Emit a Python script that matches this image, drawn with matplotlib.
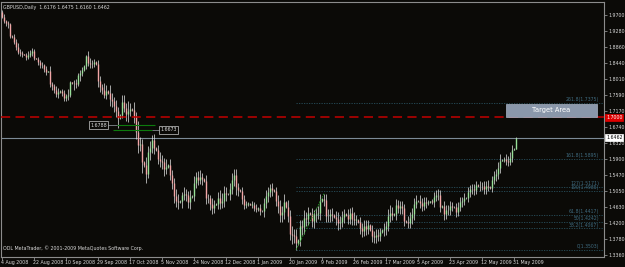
import matplotlib
matplotlib.use("Agg")
import matplotlib.pyplot as plt
from matplotlib.patches import Rectangle
import matplotlib.transforms as mtransforms

# ---------------- data ----------------
closes = [
    1.9660, 1.9530, 1.9480, 1.9450, 1.9150,
    1.9120, 1.9000, 1.8860, 1.8720, 1.8700, 1.8660,
    1.8650, 1.8600, 1.8640, 1.8700, 1.8760, 1.8560,
    1.8550, 1.8450, 1.8370, 1.8370, 1.8280, 1.8200,
    1.8210, 1.7870, 1.7820, 1.7730, 1.7610, 1.7670,
    1.7700, 1.7630, 1.7520, 1.7550, 1.7600, 1.7920,
    1.7900, 1.7900, 1.7890, 1.8120, 1.8170, 1.8250,
    1.8350, 1.8610, 1.8440, 1.8410, 1.8400, 1.8450,
    1.8400, 1.7950, 1.7800, 1.7720, 1.7600, 1.7700,
    1.7650, 1.7480, 1.7420, 1.7300, 1.7180, 1.6980,
    1.7050, 1.7400, 1.7250, 1.7100, 1.7180, 1.7220,
    1.7200, 1.7000, 1.6600, 1.6270, 1.6290, 1.5820,
    1.5750, 1.5510, 1.6080, 1.6200, 1.6400, 1.6200,
    1.6150, 1.5900, 1.5840, 1.5820, 1.5650, 1.5700,
    1.5750, 1.5490, 1.5260, 1.4920, 1.4800, 1.4770,
    1.4800, 1.4950, 1.4980, 1.4950, 1.4760, 1.4900,
    1.4920, 1.5280, 1.5420, 1.5350, 1.5420, 1.5360,
    1.5330, 1.4870, 1.4860, 1.4720, 1.4620, 1.4700,
    1.4720, 1.4880, 1.4730, 1.4790, 1.5010, 1.4970,
    1.4980, 1.5120, 1.5350, 1.5480, 1.5150, 1.5070,
    1.5050, 1.4850, 1.4700, 1.4720, 1.4720,
    1.4700, 1.4700, 1.4620, 1.4590, 1.4600, 1.4540,
    1.4520, 1.4750, 1.4920, 1.5020, 1.5130, 1.5080,
    1.5050, 1.4800, 1.4650, 1.4430, 1.4510, 1.4760,
    1.4640, 1.4400, 1.3930, 1.3900, 1.3860, 1.3680,
    1.3760, 1.4120, 1.4100, 1.4350, 1.4310, 1.4480,
    1.4440, 1.4260, 1.4410, 1.4460, 1.4480, 1.4800,
    1.4850, 1.4830, 1.4390, 1.4390, 1.4450, 1.4420,
    1.4380, 1.4320, 1.4200, 1.4250, 1.4360, 1.4450,
    1.4420, 1.4330, 1.4470, 1.4320, 1.4300, 1.4300,
    1.4230, 1.4080, 1.4000, 1.4130, 1.4050, 1.4150,
    1.4020, 1.3870, 1.3850, 1.3900, 1.3880, 1.3970,
    1.4020, 1.4050, 1.4120, 1.4400, 1.4480, 1.4430,
    1.4450, 1.4680, 1.4620, 1.4650, 1.4600, 1.4260,
    1.4250, 1.4220, 1.4340, 1.4450, 1.4720, 1.4800,
    1.4790, 1.4740, 1.4660, 1.4760, 1.4740, 1.4770,
    1.4780, 1.4770, 1.4900, 1.4960, 1.4950, 1.4640,
    1.4650, 1.4450, 1.4560, 1.4550, 1.4650, 1.4640,
    1.4630, 1.4510, 1.4630, 1.4770, 1.4790, 1.4880,
    1.4870, 1.5030, 1.5100, 1.5100, 1.5080, 1.5210,
    1.5200, 1.5180, 1.5200, 1.5110, 1.5200, 1.5170,
    1.5140, 1.5340, 1.5440, 1.5510, 1.5670, 1.5860,
    1.5870, 1.5900, 1.5850, 1.5830, 1.5930, 1.6150,
    1.6176, 1.6462,
]
first_open = 1.9790

upper_wick_pips = [
    40, 60, 50, 70, 45,
    15, 80, 60, 90, 70, 50,
    20, 60, 110, 80, 70, 40,
    15, 50, 60, 80, 40, 70,
    20, 150, 60, 70, 90, 100,
    15, 60, 80, 70, 150, 40,
    20, 90, 100, 60, 70, 90,
    30, 40, 130, 120, 90, 100,
    25, 120, 150, 90, 180, 160,
    30, 200, 170, 120, 150, 90,
    40, 180, 200, 130, 250, 150,
    30, 200, 150, 300, 180, 150,
    40, 200, 160, 170, 130, 150,
    30, 120, 190, 160, 120, 200,
    30, 150, 120, 140, 190, 180,
    25, 90, 170, 120, 100, 180,
    30, 160, 140, 170, 190, 120,
    30, 150, 120, 100, 150, 120,
    25, 150, 190, 220, 180, 140,
    30, 140, 170, 160, 150, 130,
    30, 120, 110, 60, 40,
    20, 80, 70, 90, 40, 110,
    25, 130, 150, 140, 110, 150,
    30, 120, 140, 180, 160, 210,
    30, 190, 150, 210, 160, 190,
    40, 180, 170, 200, 160, 150,
    35, 180, 140, 160, 170, 190,
    30, 135, 150, 180, 140, 160,
    30, 140, 170, 150, 180, 130,
    30, 150, 140, 160, 170, 120,
    30, 130, 140, 150, 160, 140,
    30, 130, 140, 150, 160, 120,
    25, 150, 140, 180, 220, 150,
    30, 160, 140, 130, 150, 120,
    25, 140, 150, 160, 150, 140,
    25, 150, 120, 140, 130, 60,
    25, 70, 140, 110, 150, 130,
    25, 140, 130, 120, 140, 110,
    25, 120, 140, 130, 110, 120,
    25, 130, 120, 140, 150, 110,
    25, 110, 100, 130, 120, 140,
    25, 110, 150, 130, 140, 160,
    20, 60, 130, 120, 150, 110,
    15, 13,
]

lower_wick_pips = [
    50, 40, 60, 80, 60,
    20, 70, 90, 60, 80, 70,
    15, 80, 60, 50, 90, 60,
    20, 70, 80, 60, 90, 70,
    15, 60, 90, 100, 80, 110,
    20, 60, 80, 77, 90, 60,
    25, 180, 110, 60, 150, 90,
    20, 80, 90, 110, 90, 80,
    30, 150, 120, 110, 100, 120,
    40, 180, 140, 150, 170, 250,
    30, 80, 120, 200, 220, 150,
    40, 150, 160, 200, 170, 300,
    50, 250, 120, 200, 150, 180,
    30, 130, 150, 170, 200, 150,
    30, 140, 160, 180, 160, 190,
    30, 180, 140, 160, 160, 170,
    30, 140, 150, 140, 120, 150,
    30, 150, 130, 160, 180, 140,
    25, 140, 160, 130, 150, 190,
    30, 150, 140, 160, 200, 150,
    30, 140, 120, 80, 50,
    20, 90, 80, 100, 60, 120,
    25, 140, 130, 160, 120, 160,
    30, 140, 170, 200, 180, 190,
    40, 170, 160, 230, 170, 177,
    40, 150, 200, 180, 170, 160,
    30, 150, 170, 160, 150, 180,
    30, 170, 140, 150, 160, 150,
    30, 150, 160, 140, 150, 160,
    30, 140, 150, 160, 130, 150,
    30, 170, 150, 140, 160, 130,
    30, 150, 160, 170, 140, 150,
    25, 140, 150, 130, 160, 150,
    30, 150, 140, 170, 160, 140,
    25, 130, 140, 150, 160, 120,
    25, 140, 130, 110, 120, 50,
    25, 60, 130, 120, 140, 150,
    25, 150, 140, 130, 120, 110,
    25, 140, 120, 110, 130, 100,
    25, 110, 120, 130, 140, 110,
    25, 120, 110, 140, 120, 110,
    25, 100, 110, 120, 130, 140,
    20, 50, 120, 110, 100, 120,
    15, 16,
]

date_labels = ['4 Aug 2008', '22 Aug 2008', '10 Sep 2008', '29 Sep 2008', '17 Oct 2008',
               '5 Nov 2008', '24 Nov 2008', '12 Dec 2008', '1 Jan 2009', '20 Jan 2009',
               '9 Feb 2009', '26 Feb 2009', '17 Mar 2009', '5 Apr 2009', '23 Apr 2009',
               '12 May 2009', '31 May 2009']
date_label_bars = [0, 16, 32, 48, 64, 80, 96, 112, 128, 144, 160, 176, 192, 208, 224, 240, 256]

price_ticks = [1.9700, 1.9280, 1.8860, 1.8440, 1.8010, 1.7590, 1.7170, 1.6740,
               1.6320, 1.5900, 1.5470, 1.5050, 1.4630, 1.4200, 1.3780, 1.3360]

fib_labels = ['261.8(1.7375)', '161.8(1.5895)', '127(1.5171)', '100(1.4985)',
              '61.8(1.4417)', '50(1.4242)', '38.2(1.4067)', '0(1.3503)']
fib_prices = [1.7375, 1.5895, 1.5171, 1.5050, 1.4417, 1.4242, 1.4067, 1.3503]
fib_start_bar = 147
fib_anchor_bars = [147, 161]
fib_anchor_prices = [1.3503, 1.4985]

target_level = 1.7000
current_price = 1.6462
target_box_bars = [252, 297.5]
target_box_prices = [1.7017, 1.7352]

level_labels = ['1.6788', '1.6673']
level_prices = [1.6788, 1.6673]
level_line_bars = [[57.5, 76.5], [55.5, 75.0]]
level_box_bars = [44.0, 79.0]

header = 'GBPUSD,Daily  1.6176 1.6475 1.6160 1.6462'
copyright_text = 'ODL MetaTrader, \u00a9 2001-2009 MetaQuotes Software Corp.'

# ---------------- drawing ----------------
BG = '#0b0a07'
FG = '#d8d8d8'
FS = 3.4
fig = plt.figure(figsize=(6.25, 2.67), dpi=100, facecolor=BG)
ax = fig.add_axes([1 / 625, 10 / 267, 603 / 625, 255 / 267], facecolor=BG)

n = len(closes)
opens = [first_open] + closes[:-1]
xs = list(range(n))
highs = [max(o, c) + u / 10000 for o, c, u in zip(opens, closes, upper_wick_pips)]
lows = [min(o, c) - l / 10000 for o, c, l in zip(opens, closes, lower_wick_pips)]

ax.vlines(xs, lows, highs, color='#e6e6e6', lw=0.5, zorder=3)
up = [i for i in xs if closes[i] >= opens[i]]
dn = [i for i in xs if closes[i] < opens[i]]
def body(idx, col):
    b0 = [min(opens[i], closes[i]) for i in idx]
    b1 = [max(opens[i], closes[i]) + 0.0008 * (abs(opens[i] - closes[i]) < 0.0008) for i in idx]
    ax.vlines(idx, b0, b1, color=col, lw=1.0, zorder=4)
body(up, '#98e098')
body(dn, '#f2a6a6')

xmin, xmax = -0.5, 301
ax.set_xlim(xmin, xmax)
ax.set_ylim(1.3315, 2.0043)

# fib levels
for lab, p in zip(fib_labels, fib_prices):
    ax.hlines(p, fib_start_bar, xmax - 0.7, color='#28505e', lw=0.6, ls=(0, (1.5, 1.5)), zorder=2)
    ax.text(xmax - 2.5, p + 0.002, lab, color='#3f6b80', fontsize=3.3, ha='right', va='bottom', zorder=2)
ax.plot(fib_anchor_bars, fib_anchor_prices, color='#1f9a1f', lw=0.6, ls=(0, (2, 1.5)), zorder=5)

# target and current lines
ax.axhline(target_level, color='#c40000', lw=1.1, ls=(0, (6, 3.5)), zorder=6)
ax.axhline(current_price, color='#7c8a96', lw=0.8, zorder=2)

# target area box
ax.add_patch(Rectangle((target_box_bars[0], target_box_prices[0]),
                       target_box_bars[1] - target_box_bars[0],
                       target_box_prices[1] - target_box_prices[0],
                       facecolor='#8a97aa', edgecolor='#aab4c4', lw=0.5, zorder=7))
ax.text(sum(target_box_bars) / 2, sum(target_box_prices) / 2, 'Target Area',
        color='white', fontsize=4.8, ha='center', va='center', zorder=8)

# green levels and their labels
for (x0, x1), p in zip(level_line_bars, level_prices):
    ax.hlines(p, x0, x1, color='#0d7a0d', lw=0.8, zorder=5)
ax.hlines(level_prices[0], level_box_bars[0] + 7.5, level_line_bars[0][0], color='#9aa0a8', lw=0.5, zorder=5)
ax.hlines(level_prices[1], level_line_bars[1][1], level_box_bars[1], color='#9aa0a8', lw=0.5, zorder=5)
for bx, p, lab in zip(level_box_bars, level_prices, level_labels):
    ax.text(bx, p, lab, color='#dddddd', fontsize=FS, ha='left', va='center', zorder=9,
            bbox=dict(boxstyle='square,pad=0.3', fc=BG, ec='#cccccc', lw=0.5))

# spines
for s in ax.spines.values():
    s.set_color('#8c8c8c')
    s.set_linewidth(0.8)

# right price axis
ax.yaxis.tick_right()
ax.set_yticks(price_ticks)
ax.set_yticklabels([f'{p:.4f}' for p in price_ticks])
ax.tick_params(axis='y', colors='#8c8c8c', labelcolor=FG, labelsize=FS, length=2, width=0.6, pad=1.0)
ax.set_xticks(date_label_bars)
ax.set_xticklabels([])
ax.tick_params(axis='x', colors='#8c8c8c', length=2, width=0.6)

trans = mtransforms.blended_transform_factory(ax.transData, ax.transAxes)
for b, lab in zip(date_label_bars, date_labels):
    ax.text(b - 0.5, -0.01, lab, transform=trans, color=FG, fontsize=FS, ha='left', va='top', clip_on=False)

# price tags on the right
tag_x = 1.0 + 2 / 603
ytrans = mtransforms.blended_transform_factory(ax.transAxes, ax.transData)
ax.text(tag_x, target_level, f'{target_level:.4f}', transform=ytrans, color='white', fontsize=FS,
        ha='left', va='center', clip_on=False, zorder=10,
        bbox=dict(boxstyle='square,pad=0.2', fc='#e00000', ec='#e00000', lw=0.5))
ax.text(tag_x, current_price, f'{current_price:.4f}', transform=ytrans, color='black', fontsize=FS,
        ha='left', va='center', clip_on=False, zorder=10,
        bbox=dict(boxstyle='square,pad=0.2', fc='white', ec='white', lw=0.5))

# header and copyright
ax.text(0.004, 0.988, header, transform=ax.transAxes, color=FG, fontsize=FS, ha='left', va='top')
ax.text(0.004, 0.025, copyright_text, transform=ax.transAxes, color=FG, fontsize=FS, ha='left', va='bottom')

fig.savefig('out.png', dpi=100, facecolor=BG)
